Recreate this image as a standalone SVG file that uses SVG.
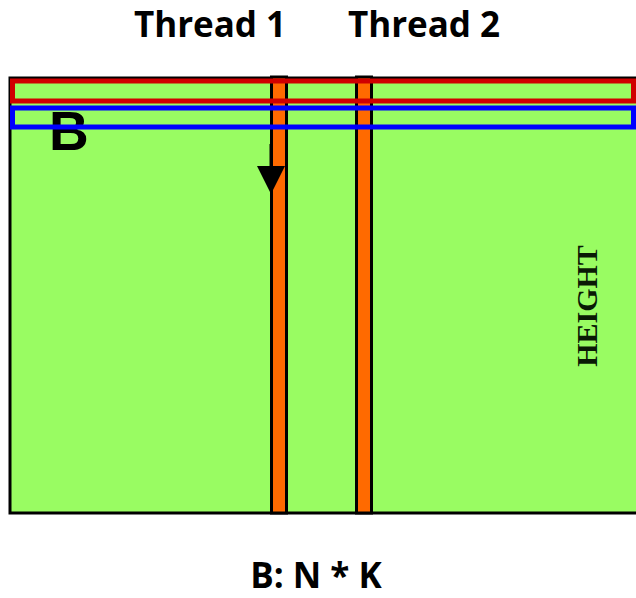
<svg xmlns="http://www.w3.org/2000/svg" width="636" height="598" viewBox="0 0 636 598">
<style>
.title{font-family:"Open Sans","Noto Sans",sans-serif;font-weight:bold;font-size:35px;fill:#000;text-anchor:middle}
.col{fill:#ff6a00;stroke:#000;stroke-width:3}
</style>
<rect width="636" height="598" fill="#fff"/>
<g id="matrix">
<rect x="10" y="78" width="640" height="435" fill="#99fc62" stroke="#000" stroke-width="3"/>
<text x="49" y="150" font-family="Liberation Sans,Arial,sans-serif" font-weight="bold" font-size="55" fill="#000">B</text>
<text transform="translate(597,306) rotate(-90)" font-family="Liberation Serif,Times New Roman,serif" font-weight="bold" font-size="30" fill="#0a1a05" text-anchor="middle">HEIGHT</text>
</g>
<g id="thread1">
<rect class="col" x="271.5" y="77" width="15" height="436"/>
</g>
<g id="thread2">
<rect class="col" x="356.5" y="77" width="15" height="436"/>
</g>
<g id="rows">
<rect x="12.5" y="81" width="621" height="20" fill="none" stroke="#d00000" stroke-width="5"/>
<rect x="12.5" y="108" width="621" height="19" fill="none" stroke="#0000ff" stroke-width="5"/>
</g>
<g id="connectors">
<line x1="271" y1="144" x2="271" y2="170" stroke="#000" stroke-width="3"/>
<path d="M257,166 L285,166 L271,194 z" fill="#000"/>
</g>
<g id="labels">
<text class="title" x="210" y="37">Thread 1</text>
<text class="title" x="424" y="37">Thread 2</text>
<text class="title" x="316" y="588">B: N * K</text>
</g>
</svg>
